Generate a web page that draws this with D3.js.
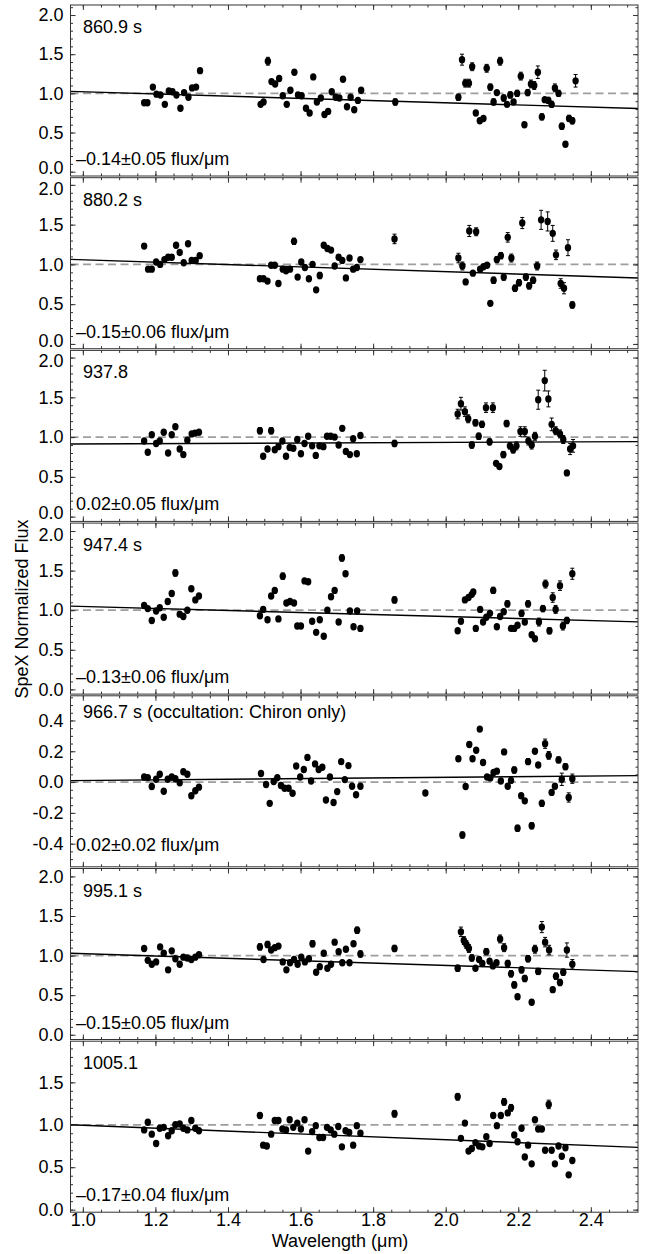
<!DOCTYPE html>
<html>
<head>
<meta charset="utf-8">
<script src="https://cdn.jsdelivr.net/npm/d3@7"></script>
<style>
body { margin: 0; background: #fff; }
svg { font-family: "Liberation Sans", Arial, Helvetica, sans-serif; }
</style>
</head>
<body>
<svg id="chart" width="650" height="1254"></svg>
<script>
/* ---- data : [wavelength (um), normalized flux, error (only where the bar shows)] ---- */

var flux861 = [
  [1.169,0.88],[1.178,0.88],[1.193,1.08],[1.203,0.99],[1.214,0.98],[1.226,0.86],[1.237,1.03],[1.247,1.02],
  [1.258,0.98],[1.269,0.81],[1.279,1.01],[1.291,0.95],[1.301,1.07],[1.312,1.08],[1.323,1.29],
  [1.490,0.86],[1.498,0.89],[1.510,1.41,0.05],[1.520,1.15],[1.530,1.12],[1.541,1.19],[1.551,0.97],[1.562,0.86],
  [1.572,1.04],[1.583,1.27],[1.593,0.98],[1.603,0.97],[1.615,0.81],[1.625,0.75],[1.635,1.21],[1.645,0.89],
  [1.656,0.94],[1.666,0.73],[1.676,0.77],[1.686,1.02],[1.697,0.95],[1.707,0.94],[1.717,1.18],[1.728,0.83],
  [1.738,0.95],[1.748,0.79],[1.758,0.91],[1.767,1.04],
  [1.861,0.89,0.04],
  [2.035,0.95,0.04],[2.045,1.43,0.07],[2.054,1.13,0.05],[2.064,1.13,0.05],[2.073,1.34,0.05],[2.083,0.75],
  [2.094,0.65],[2.104,0.68],[2.113,1.32,0.05],[2.123,1.08,0.04],[2.132,0.89,0.04],[2.141,1.01],[2.150,1.41,0.05],
  [2.160,0.94,0.04],[2.169,0.86],[2.178,0.98,0.04],[2.187,0.89],[2.197,1.00,0.04],[2.207,1.22,0.05],[2.217,0.60],
  [2.226,1.01,0.04],[2.235,1.12,0.05],[2.244,1.10,0.05],[2.254,1.27,0.08],[2.265,0.70,0.04],[2.273,0.92],
  [2.283,0.91,0.04],[2.292,0.86,0.04],[2.301,1.07,0.05],[2.311,1.00,0.04],[2.320,0.58,0.04],[2.330,0.35,0.03],
  [2.340,0.68,0.04],[2.349,0.65,0.04],[2.358,1.16,0.08]
]

var flux880 = [
  [1.169,1.23,0.03],[1.180,0.94],[1.190,0.94],[1.202,1.03],[1.213,1.00],[1.225,1.06],[1.235,1.09],[1.245,1.09],
  [1.257,1.24,0.03],[1.267,1.15],[1.278,1.02],[1.290,1.26],[1.300,1.05],[1.311,1.05],[1.322,1.11],
  [1.488,0.82],[1.498,0.82],[1.509,0.79],[1.519,0.99],[1.529,0.99],[1.539,0.76],[1.551,0.94],[1.560,0.92],
  [1.571,0.94],[1.582,1.29,0.04],[1.592,0.84],[1.602,1.03],[1.612,0.96],[1.623,0.82],[1.633,1.00],[1.643,0.68],
  [1.653,0.86,0.04],[1.664,1.24],[1.674,1.20],[1.684,1.18],[1.694,0.98],[1.705,1.09],[1.715,1.05],[1.725,0.83],
  [1.735,1.08],[1.745,0.94],[1.755,0.96],[1.765,1.06],
  [1.859,1.32,0.06],
  [2.035,1.08,0.06],[2.046,0.98,0.05],[2.055,0.78],[2.065,1.42,0.07],[2.075,0.89],[2.084,1.41,0.05],[2.095,0.94],
  [2.104,0.97],[2.114,0.99],[2.123,0.51],[2.132,0.80,0.04],[2.141,1.06,0.04],[2.152,1.11,0.04],[2.160,0.84,0.04],
  [2.171,1.34,0.06],[2.181,1.08,0.05],[2.191,0.70,0.04],[2.202,0.77,0.04],[2.211,1.52,0.07],[2.221,0.84,0.04],
  [2.230,0.73,0.04],[2.241,0.80,0.04],[2.252,0.98,0.05],[2.263,1.56,0.12],[2.281,1.54,0.12],[2.295,1.39,0.10],
  [2.304,1.12,0.06],[2.317,0.76,0.06],[2.326,0.70,0.07],[2.337,1.21,0.10],[2.349,0.49,0.04]
]

var flux938 = [
  [1.169,0.95],[1.179,0.81],[1.190,1.03],[1.202,0.92],[1.212,0.95],[1.223,1.06],[1.235,0.80],[1.245,1.03],
  [1.255,1.13],[1.267,0.85],[1.277,0.78],[1.288,0.96],[1.300,1.04],[1.309,1.05],[1.320,1.06],
  [1.488,1.08,0.04],[1.497,0.76],[1.509,0.85],[1.519,1.08,0.04],[1.529,0.84],[1.539,0.88],[1.550,0.95],[1.560,0.76],
  [1.570,0.87],[1.580,0.86],[1.591,0.97],[1.601,0.79],[1.611,0.92],[1.621,1.01],[1.632,0.89],[1.642,0.77],
  [1.652,0.89],[1.663,0.88],[1.673,1.01],[1.683,1.01],[1.694,1.00],[1.705,0.90],[1.715,1.11],[1.725,0.82],
  [1.736,0.78],[1.745,0.98],[1.755,0.79],[1.765,1.02],
  [1.859,0.92,0.04],
  [2.033,1.29,0.06],[2.042,1.42,0.08],[2.053,1.32,0.06],[2.062,1.23,0.05],[2.072,0.90,0.04],[2.082,1.18,0.04],
  [2.091,1.01,0.04],[2.100,1.16,0.04],[2.111,1.37,0.06],[2.121,0.94,0.04],[2.130,1.37,0.06],[2.139,0.67],
  [2.148,0.63],[2.159,0.78,0.04],[2.168,1.17,0.04],[2.177,0.89,0.04],[2.186,0.84,0.04],[2.195,0.89,0.05],
  [2.206,1.07,0.06],[2.218,1.07,0.06],[2.228,0.95,0.05],[2.237,0.90,0.05],[2.246,1.01,0.05],[2.255,1.47,0.12],
  [2.273,1.71,0.13],[2.283,1.48,0.10],[2.292,1.16,0.08],[2.303,1.08,0.05],[2.315,1.04,0.05],[2.324,0.97,0.05],
  [2.334,0.55,0.03],[2.343,0.85,0.07],[2.351,0.89,0.08]
]

var flux947 = [
  [1.169,1.06],[1.179,1.02],[1.190,0.87],[1.202,0.99],[1.212,1.03],[1.223,0.91],[1.234,1.11],[1.245,1.21],
  [1.255,1.47,0.04],[1.267,0.95],[1.277,0.92],[1.288,1.00],[1.299,1.27],[1.310,1.13],[1.320,1.18],
  [1.488,0.93],[1.497,1.01],[1.509,0.88],[1.519,1.18],[1.529,1.25],[1.539,0.89],[1.551,1.43,0.04],[1.561,1.09],
  [1.571,1.11],[1.582,1.09],[1.591,0.80],[1.601,0.80],[1.611,1.37],[1.621,1.36],[1.632,0.86],[1.643,0.72],
  [1.653,0.88],[1.664,0.67],[1.674,1.00],[1.684,1.17],[1.694,1.25],[1.705,0.85],[1.714,1.66,0.04],[1.724,1.46],
  [1.736,0.99],[1.746,0.79],[1.756,0.99],[1.765,0.77],
  [1.859,1.13,0.04],
  [2.033,0.74],[2.042,0.86],[2.053,1.13],[2.063,1.16],[2.072,1.20],[2.076,1.23],[2.083,0.77],[2.095,1.01],
  [2.103,0.85],[2.112,0.91],[2.122,0.96],[2.131,1.25,0.04],[2.141,0.79],[2.150,0.92],[2.160,0.98],[2.170,1.08,0.04],
  [2.180,0.77],[2.189,0.77],[2.198,0.81],[2.209,0.96,0.04],[2.218,0.85],[2.227,1.08,0.04],[2.237,0.69],[2.246,0.64],
  [2.257,0.85,0.05],[2.268,1.02,0.04],[2.275,1.33,0.05],[2.286,0.74,0.04],[2.295,1.16,0.06],[2.303,1.01,0.05],
  [2.315,1.31,0.06],[2.323,0.80,0.05],[2.334,0.87,0.04],[2.349,1.46,0.07]
]

var flux967 = [
  [1.169,0.033],[1.179,0.029],[1.190,-0.029],[1.202,0.018],[1.212,0.051],[1.223,-0.060],[1.234,0.018],[1.245,0.033],
  [1.255,0.022],[1.267,-0.004],[1.277,0.067],[1.288,0.051],[1.299,-0.089],[1.310,-0.056],[1.320,-0.033],
  [1.491,0.056],[1.505,-0.016],[1.515,-0.138],[1.526,0.004],[1.536,0.029],[1.546,-0.022],[1.556,-0.040],[1.567,-0.040],
  [1.578,-0.073],[1.588,0.104],[1.599,0.033],[1.609,0.082],[1.619,0.160],[1.629,0.007],[1.640,0.118],[1.650,0.082],
  [1.660,0.096],[1.670,-0.116],[1.681,0.033],[1.691,-0.133],[1.701,-0.062],[1.712,0.133],[1.722,0.016],[1.732,0.107],
  [1.742,-0.027],[1.753,-0.082],[1.765,-0.027],
  [1.944,-0.071],
  [2.035,0.151,0.015],[2.046,-0.344,0.02],[2.055,-0.029],[2.065,0.244],[2.074,0.151],[2.084,0.207],[2.094,0.344],
  [2.103,0.127],[2.114,0.033],[2.123,0.027],[2.132,0.062],[2.141,0.071],[2.152,0.007],[2.161,0.196],[2.171,-0.027],
  [2.180,0.011],[2.189,0.078,0.02],[2.198,-0.300,0.02],[2.208,-0.089],[2.218,-0.122],[2.227,0.133,0.02],
  [2.237,-0.284,0.02],[2.246,0.200],[2.255,0.111],[2.265,-0.138,0.02],[2.274,0.249,0.03],[2.284,0.173,0.025],
  [2.292,-0.067],[2.301,-0.027],[2.311,0.144,0.02],[2.320,0.018,0.04],[2.330,0.100,0.02],[2.339,-0.100,0.03],
  [2.349,0.022,0.03]
]

var flux995 = [
  [1.169,1.09],[1.179,0.94],[1.190,0.89],[1.202,0.92],[1.213,1.11],[1.223,1.03],[1.235,0.82],[1.245,1.06],
  [1.255,0.96],[1.267,0.89],[1.277,0.98],[1.288,0.97],[1.299,0.95],[1.310,0.98],[1.320,1.01],
  [1.488,1.11,0.04],[1.498,0.95],[1.509,1.14,0.04],[1.519,1.07],[1.529,1.10],[1.539,1.12],[1.551,0.92],[1.561,0.82],
  [1.571,0.91],[1.582,0.95],[1.592,0.89],[1.602,0.98],[1.612,0.92],[1.623,0.96],[1.633,1.15,0.04],[1.643,0.79],
  [1.653,0.86],[1.664,1.03],[1.674,0.84],[1.684,0.89],[1.694,1.17],[1.705,1.05],[1.715,0.91],[1.725,1.08],
  [1.735,0.91],[1.746,1.15],[1.756,1.32,0.04],[1.765,1.02,0.04],
  [1.859,1.09,0.04],
  [2.033,0.84,0.04],[2.042,1.30,0.06],[2.050,1.19,0.05],[2.057,1.14,0.05],[2.064,1.09,0.05],[2.072,0.97,0.04],
  [2.082,0.84],[2.092,0.95],[2.101,0.90],[2.112,1.05,0.04],[2.121,0.93],[2.130,0.87],[2.140,0.91],[2.150,1.21,0.05],
  [2.161,1.10,0.05],[2.171,0.90,0.04],[2.180,0.77,0.04],[2.189,0.63,0.04],[2.198,0.48,0.03],[2.209,0.82,0.04],
  [2.218,0.71,0.04],[2.227,0.96,0.04],[2.237,0.41,0.03],[2.246,1.08,0.05],[2.255,0.80,0.04],[2.265,1.36,0.07],
  [2.274,1.17,0.06],[2.285,1.07,0.06],[2.295,0.57,0.03],[2.304,0.74,0.04],[2.315,0.66,0.04],[2.324,0.79,0.04],
  [2.334,1.07,0.09],[2.349,0.89,0.06]
]

var flux1005 = [
  [1.169,0.94],[1.179,1.03],[1.190,0.89],[1.202,0.78],[1.212,0.96],[1.223,0.97],[1.235,0.87],[1.245,0.93],
  [1.255,1.00],[1.267,1.01],[1.277,0.96],[1.288,0.94],[1.299,1.05],[1.310,0.96],[1.320,0.93],
  [1.488,1.11,0.03],[1.497,0.76],[1.507,0.75],[1.519,0.89],[1.529,1.05],[1.539,1.05],[1.550,0.95],[1.560,0.94],
  [1.570,1.06],[1.580,0.97],[1.591,1.02],[1.601,0.95],[1.611,1.06],[1.621,0.69],[1.632,0.92],[1.642,0.99],
  [1.652,0.85],[1.662,0.85],[1.673,0.97],[1.683,0.94],[1.693,0.89],[1.704,0.98],[1.714,0.74],[1.724,0.93],
  [1.734,0.91],[1.745,0.76],[1.755,0.99],[1.765,0.90],
  [1.859,1.13,0.04],
  [2.033,1.33,0.04],[2.042,0.84],[2.053,1.02],[2.063,0.69],[2.072,0.72],[2.082,0.79],[2.092,0.75],[2.101,0.74],
  [2.112,0.86],[2.121,0.78],[2.131,1.11],[2.141,0.99],[2.152,1.11],[2.161,1.27,0.04],[2.171,1.14],[2.180,1.20,0.04],
  [2.189,0.88],[2.198,0.80],[2.209,0.96],[2.218,0.62],[2.227,0.76],[2.237,0.54],[2.246,1.06],[2.255,0.95],
  [2.265,0.95],[2.274,0.70],[2.284,1.24,0.05],[2.292,0.70],[2.301,0.54],[2.311,0.75],[2.320,0.63],[2.330,0.73],
  [2.339,0.41],[2.349,0.58]
]

var panelData = [flux861, flux880, flux938, flux947, flux967, flux995, flux1005]

var panelTimes = ["860.9 s", "880.2 s", "937.8", "947.4 s",
                  "966.7 s (occultation: Chiron only)", "995.1 s", "1005.1"]
var slopeLabels = ["\u20130.14\u00b10.05 flux/\u03bcm", "\u20130.15\u00b10.06 flux/\u03bcm",
                   "0.02\u00b10.05 flux/\u03bcm", "\u20130.13\u00b10.06 flux/\u03bcm",
                   "0.02\u00b10.02 flux/\u03bcm", "\u20130.15\u00b10.05 flux/\u03bcm",
                   "\u20130.17\u00b10.04 flux/\u03bcm"]

/* fitted line : value at 1.0 um and slope per um */
var fitAt1   = [1.020, 1.058, 0.913, 1.047, 0.010, 1.024, 0.994]
var fitSlope = [-0.14, -0.15, 0.02, -0.127, 0.021, -0.148, -0.17]
/* reference (dashed) level */
var refLevel = [1, 1, 1, 1, 0, 1, 1]

var yDomains = [[-0.055, 2.128], [-0.06, 2.09], [-0.06, 2.09], [-0.06, 2.10],
                [-0.55, 0.56], [-0.06, 2.10], [-0.03, 1.985]]

var xTicks = [1.0, 1.2, 1.4, 1.6, 1.8, 2.0, 2.2, 2.4]
var yTicksFlux = [0.0, 0.5, 1.0, 1.5, 2.0]
var yTicksOcc = [-0.4, -0.2, 0.0, 0.2, 0.4]

/* ---- layout ---- */
var left = 70.5, right = 638
var top0 = 5, pitch = 172.7, ph = 171
var frameColor = "#333"
var fs = 18

var x = d3.scaleLinear().domain([0.966, 2.53]).range([left, right])
var xMinor = d3.range(0.95, 2.53, 0.05).filter(function(v) { return v >= 0.966 })

var fmt = function(v) { return (Math.abs(v) < 1e-9 ? 0 : v).toFixed(1) }

var svg = d3.select("#chart")

function styleAxis(g) {
    g.select(".domain").remove()
    g.attr("font-family", null).attr("font-size", fs)
    g.selectAll("line").attr("stroke", frameColor)
    g.selectAll("text").attr("fill", "#000")
}

panelData.forEach(function(data, i) {
    var y0 = top0 + i * pitch
    var dom = yDomains[i]
    var y = d3.scaleLinear().domain(dom).range([y0 + ph, y0])
    var occ = (i == 4)
    var majors = (occ ? yTicksOcc : yTicksFlux).filter(function(v) { return v >= dom[0] && v <= dom[1] })
    var minors = d3.range(dom[0] - 0.1, dom[1] + 0.1, occ ? 0.05 : 0.1)
        .map(function(v) { return Math.round(v * (occ ? 20 : 10)) / (occ ? 20 : 10) })
        .filter(function(v) { return v > dom[0] && v < dom[1] })

    var g = svg.append("g").attr("class", "panel" + i)

    /* reference level */
    g.append("line")
        .attr("x1", left).attr("x2", right)
        .attr("y1", y(refLevel[i])).attr("y2", y(refLevel[i]))
        .attr("stroke", "#9e9e9e").attr("stroke-width", 1.8)
        .attr("stroke-dasharray", "8,4.5")

    /* fitted slope */
    var d0 = x.domain()
    g.append("line")
        .attr("x1", x(d0[0])).attr("x2", x(d0[1]))
        .attr("y1", y(fitAt1[i] + fitSlope[i] * (d0[0] - 1)))
        .attr("y2", y(fitAt1[i] + fitSlope[i] * (d0[1] - 1)))
        .attr("stroke", "#000").attr("stroke-width", 1.4)

    /* points with error bars */
    var pts = g.append("g").selectAll("g").data(data).enter().append("g")
    pts.filter(function(d) { return d[2] }).append("path")
        .attr("d", function(d) {
            var xx = x(d[0]), a = y(d[1] - d[2]), b = y(d[1] + d[2])
            return "M" + xx + "," + a + "V" + b +
                   "M" + (xx - 2) + "," + a + "H" + (xx + 2) +
                   "M" + (xx - 2) + "," + b + "H" + (xx + 2)
        })
        .attr("stroke", "#000").attr("stroke-width", 1).attr("fill", "none")
    pts.append("ellipse")
        .attr("cx", function(d) { return x(d[0]) })
        .attr("cy", function(d) { return y(d[1]) })
        .attr("rx", 3.2).attr("ry", 3.7)
        .attr("fill", "#000")

    /* frame */
    g.append("rect")
        .attr("x", left).attr("y", y0)
        .attr("width", right - left).attr("height", ph)
        .attr("fill", "none").attr("stroke", frameColor).attr("stroke-width", 1)

    /* x ticks, top and bottom */
    g.append("g").attr("transform", "translate(0," + (y0 + ph) + ")")
        .call(d3.axisBottom(x).tickValues(xTicks).tickSize(-5).tickPadding(1.5)
              .tickFormat(i == 6 ? fmt : ""))
        .call(styleAxis)
    g.append("g").attr("transform", "translate(0," + (y0 + ph) + ")")
        .call(d3.axisBottom(x).tickValues(xMinor).tickSize(-2.5).tickFormat(""))
        .call(styleAxis)
    g.append("g").attr("transform", "translate(0," + y0 + ")")
        .call(d3.axisTop(x).tickValues(xTicks).tickSize(-5).tickFormat(""))
        .call(styleAxis)
    g.append("g").attr("transform", "translate(0," + y0 + ")")
        .call(d3.axisTop(x).tickValues(xMinor).tickSize(-2.5).tickFormat(""))
        .call(styleAxis)

    /* y ticks, left and right */
    var yl = g.append("g").attr("transform", "translate(" + left + ",0)")
        .call(d3.axisLeft(y).tickValues(majors).tickSize(-5).tickPadding(7).tickFormat(fmt))
        .call(styleAxis)
    /* keep the 0.0 / 2.0 labels of touching panels apart */
    yl.selectAll("text")
        .attr("y", function(d) {
            if (d == 0 && !occ && i <= 2) return -3.5
            if (d == 2 && i >= 1 && i <= 3) return 3.5
            return 0
        })
    g.append("g").attr("transform", "translate(" + left + ",0)")
        .call(d3.axisLeft(y).tickValues(minors).tickSize(-2.5).tickFormat(""))
        .call(styleAxis)
    g.append("g").attr("transform", "translate(" + right + ",0)")
        .call(d3.axisRight(y).tickValues(majors).tickSize(-5).tickFormat(""))
        .call(styleAxis)
    g.append("g").attr("transform", "translate(" + right + ",0)")
        .call(d3.axisRight(y).tickValues(minors).tickSize(-2.5).tickFormat(""))
        .call(styleAxis)

    /* labels inside the panel */
    g.append("text")
        .attr("x", 83).attr("y", y0 + (occ ? 22 : 28))
        .attr("font-size", fs)
        .text(panelTimes[i])
    g.append("text")
        .attr("x", 76).attr("y", y0 + ph - (occ ? 16 : 11))
        .attr("font-size", fs)
        .text(slopeLabels[i])
})

/* axis titles */
svg.append("text")
    .attr("transform", "translate(28,609) rotate(-90)")
    .attr("text-anchor", "middle")
    .attr("font-size", fs)
    .text("SpeX Normalized Flux")

svg.append("text")
    .attr("x", 340).attr("y", 1247)
    .attr("text-anchor", "middle")
    .attr("font-size", fs)
    .text("Wavelength (\u03bcm)")
</script>
</body>
</html>
